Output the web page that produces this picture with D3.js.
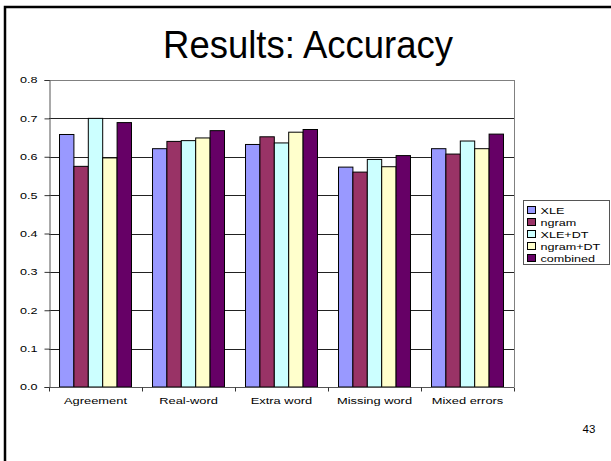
<!DOCTYPE html>
<html>
<head>
<meta charset="utf-8">
<script src="https://cdn.jsdelivr.net/npm/d3@7"></script>
<style>
  html, body { margin: 0; padding: 0; background: #fff; }
  svg { display: block; font-family: "Liberation Sans", Arial, sans-serif; }
</style>
</head>
<body>
<svg id="chart" width="611" height="461"></svg>
<script>
// Error categories along the x axis
const categories = ["Agreement", "Real-word", "Extra word", "Missing word", "Mixed errors"];
// Systems compared
const seriesNames = ["XLE", "ngram", "XLE+DT", "ngram+DT", "combined"];
// Accuracy per system, one value per category
const xle      = [0.658, 0.621, 0.632, 0.573, 0.621];
const ngram    = [0.575, 0.640, 0.652, 0.560, 0.607];
const xleDt    = [0.700, 0.642, 0.636, 0.593, 0.641];
const ngramDt  = [0.597, 0.649, 0.664, 0.574, 0.621];
const combined = [0.689, 0.668, 0.671, 0.603, 0.659];
const yTicks = [0, 0.1, 0.2, 0.3, 0.4, 0.5, 0.6, 0.7, 0.8];
const colors = ["#9999FF", "#993366", "#CCFFFF", "#FFFFCC", "#660066"];

const seriesValues = [xle, ngram, xleDt, ngramDt, combined];
const rows = categories.map((c, i) => ({
  category: c,
  values: seriesNames.map((s, j) => ({ series: s, value: seriesValues[j][i] }))
}));

// The embedded chart's lettering is stretched horizontally
const SX = 1.4;
const stretched = (x, y) => `translate(${x},${y}) scale(${SX},1)`;

const svg = d3.select("#chart");

// Slide frame and title
svg.append("path")
  .attr("d", "M5,461 V7 H611")
  .attr("fill", "none").attr("stroke", "#000").attr("stroke-width", 2.5);

svg.append("text")
  .attr("transform", "translate(308,58) scale(0.96,1)")
  .attr("text-anchor", "middle")
  .attr("font-size", 38)
  .attr("fill", "#000")
  .text("Results: Accuracy");

svg.append("text")
  .attr("transform", "translate(589,433) scale(1.15,1)")
  .attr("text-anchor", "middle")
  .attr("font-size", 10)
  .attr("fill", "#000")
  .text("43");

const plot = { left: 49, right: 514, top: 80, bottom: 387 };

const x0 = d3.scaleBand().domain(categories).range([plot.left, plot.right]).padding(0);
const x1 = d3.scaleBand().domain(seriesNames)
  .range([x0.bandwidth() * 0.113, x0.bandwidth() * 0.887]).padding(0);
const y = d3.scaleLinear().domain([0, 0.8]).range([plot.bottom, plot.top]);

// Horizontal gridlines
svg.append("g")
  .selectAll("line")
  .data(yTicks.filter(t => t > 0))
  .join("line")
  .attr("x1", plot.left).attr("x2", plot.right)
  .attr("y1", d => Math.round(y(d)) + 0.5).attr("y2", d => Math.round(y(d)) + 0.5)
  .attr("stroke", d => d === 0.8 ? "#808080" : "#222")
  .attr("stroke-width", 1);

// Right border of plot area
svg.append("line")
  .attr("x1", plot.right + 0.5).attr("x2", plot.right + 0.5)
  .attr("y1", plot.top).attr("y2", plot.bottom)
  .attr("stroke", "#808080");

// Bars
const groups = svg.append("g")
  .selectAll("g")
  .data(rows)
  .join("g")
  .attr("transform", d => `translate(${x0(d.category)},0)`);

groups.selectAll("rect")
  .data(d => d.values)
  .join("rect")
  .attr("x", d => x1(d.series))
  .attr("y", d => y(d.value))
  .attr("width", x1.bandwidth())
  .attr("height", d => y(0) - y(d.value))
  .attr("fill", (d, i) => colors[i])
  .attr("stroke", "#000")
  .attr("stroke-width", 1);

// Y axis
const yAxis = svg.append("g")
  .attr("transform", `translate(${plot.left + 0.5},0)`)
  .call(d3.axisLeft(y).tickValues(yTicks).tickFormat(d3.format(".1f")).tickSize(5).tickPadding(7));
yAxis.select(".domain").attr("stroke", "#555");
yAxis.selectAll(".tick line").attr("stroke", "#333");
yAxis.selectAll("text")
  .attr("font-size", 9)
  .attr("font-family", "Liberation Sans, Arial, sans-serif")
  .attr("fill", "#000")
  .attr("x", -12 / SX)
  .attr("transform", `scale(${SX},1)`);

// X axis with ticks between categories
const xAxisG = svg.append("g")
  .attr("transform", `translate(0,${plot.bottom + 0.5})`);
xAxisG.append("line")
  .attr("x1", plot.left).attr("x2", plot.right)
  .attr("stroke", "#555");
xAxisG.selectAll(".sep")
  .data(categories.concat(["end"]))
  .join("line")
  .attr("class", "sep")
  .attr("x1", (d, i) => (i < categories.length ? x0(d) : plot.right) + 0.5)
  .attr("x2", (d, i) => (i < categories.length ? x0(d) : plot.right) + 0.5)
  .attr("y1", 0).attr("y2", 4)
  .attr("stroke", "#333");
xAxisG.selectAll(".lab")
  .data(categories)
  .join("text")
  .attr("class", "lab")
  .attr("transform", d => stretched(x0(d) + x0.bandwidth() / 2, 16))
  .attr("text-anchor", "middle")
  .attr("font-size", 9.2)
  .attr("fill", "#000")
  .text(d => d);

// Legend
const legend = svg.append("g").attr("transform", "translate(523.5,200.5)");
legend.append("rect")
  .attr("width", 86).attr("height", 64)
  .attr("fill", "#fff").attr("stroke", "#555");
const items = legend.selectAll(".item")
  .data(seriesNames)
  .join("g")
  .attr("class", "item")
  .attr("transform", (d, i) => `translate(4,${6 + i * 12})`);
items.append("rect")
  .attr("width", 8).attr("height", 7)
  .attr("fill", (d, i) => colors[i])
  .attr("stroke", "#000");
items.append("text")
  .attr("transform", stretched(13, 7.5))
  .attr("font-size", 9)
  .attr("fill", "#000")
  .text(d => d);
</script>
</body>
</html>
